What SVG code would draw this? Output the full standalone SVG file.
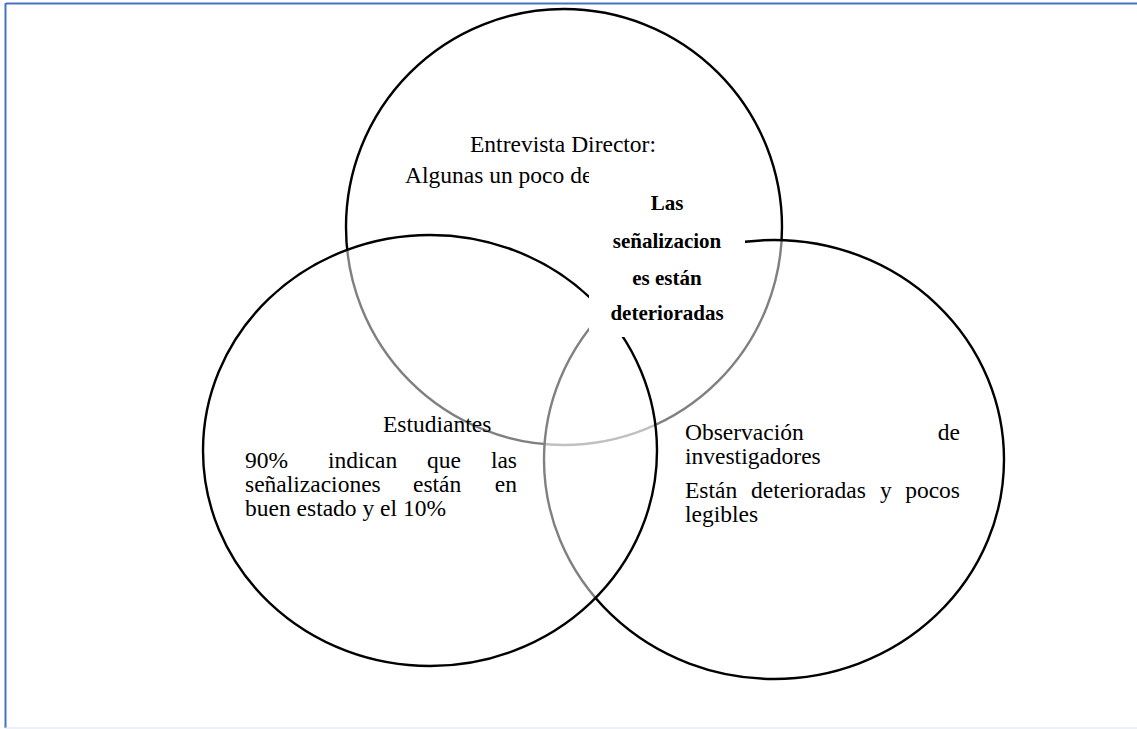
<svg xmlns="http://www.w3.org/2000/svg" width="1137" height="729" viewBox="0 0 1137 729">
<style>
.c{stroke:#000;stroke-width:2.4;fill:#fff;fill-opacity:0.5}
.t{font-family:"Liberation Serif","Times New Roman",serif;font-size:23.5px;fill:#000}
.b{font-family:"Liberation Serif","Times New Roman",serif;font-size:21px;font-weight:bold;fill:#000;text-anchor:middle}
</style>
<rect x="0" y="0" width="1137" height="729" fill="#fff"/>
<g id="frame">
<line x1="6" y1="3.5" x2="1137" y2="3.5" stroke="#4472C4" stroke-width="2"/>
<line x1="5.5" y1="3" x2="5.5" y2="728" stroke="#4472C4" stroke-width="2"/>
<line x1="5" y1="728" x2="1137" y2="728" stroke="#d9e2f3" stroke-width="1"/>
</g>
<g id="node-entrevista">
<ellipse class="c" cx="564" cy="227" rx="218" ry="218"/>
<text class="t" x="470" y="152">Entrevista Director:</text>
<text class="t" x="405" y="183">Algunas un poco de</text>
</g>
<g id="node-observacion">
<ellipse class="c" cx="774" cy="459.5" rx="230" ry="219.5"/>
</g>
<g id="node-estudiantes">
<ellipse class="c" cx="430" cy="450.5" rx="227" ry="215.5"/>
<text class="t" x="383" y="432">Estudiantes</text>
<text class="t" y="468"><tspan x="245">90%</tspan><tspan x="328">indican</tspan><tspan x="427">que</tspan><tspan x="517" text-anchor="end">las</tspan></text>
<text class="t" y="492"><tspan x="245">señalizaciones</tspan><tspan x="413">están</tspan><tspan x="517" text-anchor="end">en</tspan></text>
<text class="t" x="245" y="516">buen estado y el 10%</text>
</g>
<g id="node-observacion-text">
<text class="t" y="440"><tspan x="685">Observación</tspan><tspan x="960" text-anchor="end">de</tspan></text>
<text class="t" x="685" y="464">investigadores</text>
<text class="t" y="498"><tspan x="685">Están</tspan><tspan x="751">deterioradas</tspan><tspan x="880">y</tspan><tspan x="960" text-anchor="end">pocos</tspan></text>
<text class="t" x="685" y="522">legibles</text>
</g>
<g id="node-centro">
<rect x="589" y="160" width="156" height="177" fill="#fff"/>
<text class="b" x="667" y="210">Las</text>
<text class="b" x="667" y="248">señalizacion</text>
<text class="b" x="667" y="285">es están</text>
<text class="b" x="667" y="320">deterioradas</text>
</g>
<g id="connectors"/>
</svg>
